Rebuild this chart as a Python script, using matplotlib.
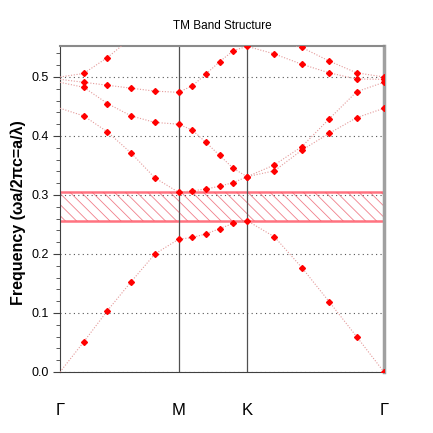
import matplotlib
matplotlib.use("Agg")
import matplotlib.pyplot as plt
import numpy as np

plt.rcParams['font.family'] = ['Liberation Sans', 'DejaVu Sans']
plt.rcParams['hatch.linewidth'] = 0.6

# high-symmetry points and path segment lengths (hexagonal lattice, units of 2pi/a)
sym_labels = ["\u0393", "M", "K", "\u0393"]
seg_lengths = [1 / np.sqrt(3), 1 / 3, 2 / 3]
n_per_seg = 5

# TM bands (16 k-points: G..M..K..G)
band1 = [0.0, 0.051, 0.104, 0.153, 0.200, 0.225, 0.228, 0.234, 0.243, 0.252,
         0.2565, 0.229, 0.177, 0.119, 0.060, 0.0]
band2 = [0.447, 0.434, 0.407, 0.371, 0.329, 0.3045, 0.307, 0.310, 0.315, 0.321,
         0.331, 0.341, 0.376, 0.4045, 0.431, 0.447]
band3 = [0.491, 0.4825, 0.455, 0.434, 0.423, 0.420, 0.410, 0.389, 0.367, 0.345,
         0.331, 0.351, 0.382, 0.429, 0.475, 0.491]
band4 = [0.496, 0.491, 0.486, 0.481, 0.476, 0.474, 0.485, 0.505, 0.526, 0.5446,
         0.552, 0.539, 0.5215, 0.507, 0.4966, 0.496]
band5 = [0.500, 0.506, 0.533, 0.566, 0.590, 0.598, 0.594, 0.584, 0.572, 0.562,
         0.556, 0.562, 0.550, 0.527, 0.507, 0.500]
bands = [band1, band2, band3, band4, band5]

gap_lo = 0.2565
gap_hi = 0.3045

# k-path coordinates
sym_pos = np.concatenate([[0], np.cumsum(seg_lengths)])
k = [0.0]
for i in range(3):
    k.extend(np.linspace(sym_pos[i], sym_pos[i + 1], n_per_seg + 1)[1:])
k = np.array(k)

fig = plt.figure(figsize=(4.33, 4.33), dpi=100)
ax = fig.add_axes([60 / 433, 61 / 433, 324 / 433, 326 / 433])

# band gap
ax.axhspan(gap_lo, gap_hi, facecolor="none", edgecolor="#f07f8a", hatch="\\\\\\", lw=0)
ax.axhline(gap_lo, color="#ff5a6a", lw=1.8, alpha=0.85)
ax.axhline(gap_hi, color="#ff5a6a", lw=1.8, alpha=0.85)

for b in bands:
    ax.plot(k, b, linestyle=(0, (1, 1.5)), color="#e49a9a", lw=0.8, zorder=3)
    # the first Gamma point is not marked in the original
    ax.plot(k[1:], b[1:], linestyle="none", marker="D", ms=3.0, color="red", zorder=4)

for x in sym_pos[1:-1]:
    ax.axvline(x, color="#505050", lw=0.9, zorder=2)

ax.set_xlim(sym_pos[0], sym_pos[-1])
ax.set_ylim(0, 0.5525)
ax.set_xticks(sym_pos)
ax.set_xticklabels(sym_labels, fontsize=12)
ax.tick_params(axis="x", length=0, pad=22)
ax.set_yticks(np.arange(0, 0.51, 0.1))
ax.set_yticklabels(["%.1f" % v for v in np.arange(0, 0.51, 0.1)], fontsize=9)
ax.set_yticks(np.arange(0, 0.55, 0.02), minor=True)
ax.tick_params(axis="y", which="major", length=5, color="#404040", pad=3)
ax.tick_params(axis="y", which="minor", length=3, color="#404040")
ax.yaxis.grid(True, linestyle=(0, (1, 3)), color="#555555", lw=0.8)

ax.spines["left"].set_color("#404040")
ax.spines["bottom"].set_color("#404040")
ax.spines["top"].set_color("#8a8a8a")
ax.spines["top"].set_linewidth(1.5)
ax.spines["right"].set_color("#a0a0a0")
ax.spines["right"].set_linewidth(2.5)

ax.set_title("TM Band Structure", fontsize=8.5, pad=12)
ax.set_ylabel("Frequency (\u03c9a/2\u03c0c=a/\u03bb)", fontsize=11.5, fontweight="bold")
ax.yaxis.set_label_coords(-0.105, 0.49)

fig.savefig("out.png", dpi=100)
